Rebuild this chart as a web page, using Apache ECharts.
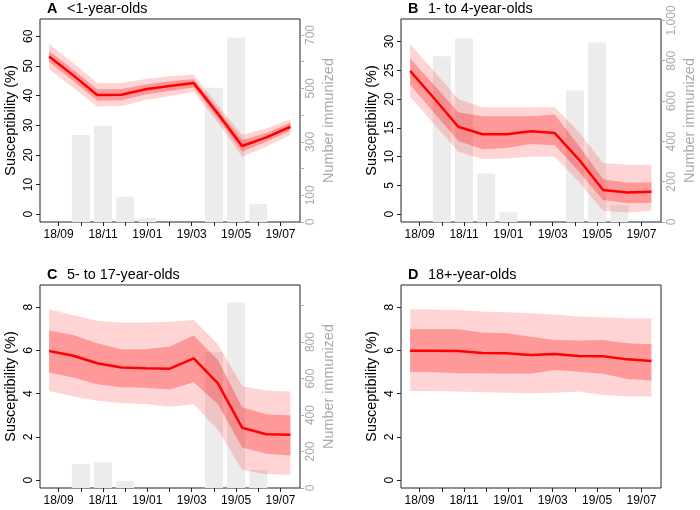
<!DOCTYPE html>
<html>
<head>
<meta charset="utf-8">
<script src="https://cdn.jsdelivr.net/npm/echarts@6/dist/echarts.min.js"></script>
<style>
  html, body { margin: 0; padding: 0; background: #fff; }
  #chart { width: 700px; height: 510px; }
</style>
</head>
<body>
<div id="chart"></div>
<script>
// month ticks, 18/09 = 0 ... 19/07 = 10
const months = ['18/09', '18/10', '18/11', '18/12', '19/01', '19/02', '19/03', '19/04', '19/05', '19/06', '19/07'];
const monthTicks = [0, 1, 2, 3, 4, 5, 6, 7, 8, 9, 10];
const labelTicks = [0, 2, 4, 6, 8, 10];

// positions of the model estimates on the month scale
const samplePos = [-0.43, 0.66, 1.74, 2.83, 3.92, 5.01, 6.09, 7.18, 8.27, 9.36, 10.45];
// months with an immunization bar
const barMonths = [1, 2, 3, 4, 5, 6, 7, 8, 9];

// A  <1-year-olds
const aMedian = [53.2, 46.8, 40.2, 40.3, 42.1, 43.2, 44.2, 33.9, 23.0, 25.9, 29.5];
const aLow50  = [51.3, 44.9, 38.3, 38.4, 40.4, 41.5, 42.7, 32.4, 21.1, 24.4, 28.2];
const aHigh50 = [55.0, 48.7, 42.1, 42.2, 43.7, 44.8, 45.6, 35.4, 25.0, 27.4, 30.8];
const aLow95  = [48.9, 42.6, 36.3, 36.5, 38.5, 39.8, 41.3, 30.9, 19.4, 22.8, 26.7];
const aHigh95 = [57.4, 51.0, 44.2, 44.2, 45.6, 46.5, 47.0, 36.8, 26.7, 28.9, 32.0];
const aImmunized = [326, 360, 95, 16, 0, 0, 503, 690, 67];

// B  1- to 4-year-olds
const bMedian = [24.9, 20.1, 15.2, 13.9, 13.9, 14.4, 14.1, 9.5, 4.2, 3.8, 3.9];
const bLow50  = [22.5, 17.6, 12.7, 11.3, 11.5, 12.2, 12.0, 7.4, 2.5, 1.9, 2.0];
const bHigh50 = [27.1, 22.4, 17.7, 17.0, 17.0, 17.0, 17.3, 11.9, 6.1, 5.5, 5.5];
const bLow95  = [20.4, 15.6, 10.9, 9.6, 9.7, 10.0, 10.0, 5.6, 0.6, 0.3, 0.6];
const bHigh95 = [29.5, 24.8, 20.0, 18.6, 18.6, 18.6, 18.6, 14.3, 8.9, 8.6, 8.6];
const bImmunized = [822, 912, 241, 48, 0, 0, 652, 891, 84];

// C  5- to 17-year-olds
const cMedian = [5.98, 5.76, 5.41, 5.21, 5.18, 5.16, 5.64, 4.48, 2.43, 2.13, 2.10];
const cLow50  = [4.98, 4.75, 4.44, 4.30, 4.28, 4.20, 4.53, 3.51, 1.51, 1.23, 1.14];
const cHigh50 = [6.93, 6.72, 6.33, 6.06, 6.06, 6.18, 6.69, 5.56, 3.37, 3.05, 2.99];
const cLow95  = [4.13, 3.87, 3.68, 3.56, 3.53, 3.40, 3.51, 2.33, 0.48, 0.28, 0.25];
const cHigh95 = [7.90, 7.64, 7.38, 7.29, 7.29, 7.33, 7.41, 6.29, 4.36, 4.14, 4.10];
const cImmunized = [132, 141, 38, 0, 0, 0, 745, 1017, 99];

// D  18+-year-olds
const dMedian = [5.99, 5.99, 5.98, 5.89, 5.87, 5.79, 5.84, 5.75, 5.73, 5.59, 5.52];
const dLow50  = [5.02, 4.99, 4.95, 4.95, 4.93, 4.92, 5.10, 5.02, 4.92, 4.68, 4.61];
const dHigh50 = [6.98, 6.98, 6.98, 6.83, 6.80, 6.64, 6.49, 6.46, 6.49, 6.33, 6.29];
const dLow95  = [4.13, 4.13, 4.10, 4.07, 4.05, 4.02, 4.05, 4.10, 3.94, 3.87, 3.87];
const dHigh95 = [7.90, 7.90, 7.87, 7.80, 7.77, 7.72, 7.67, 7.57, 7.54, 7.49, 7.49];

// axis ticks
const aLeftTicks = [0, 10, 20, 30, 40, 50, 60];
const bLeftTicks = [0, 5, 10, 15, 20, 25, 30];
const cdLeftTicks = [0, 2, 4, 6, 8];
const aRightTicks = [0, 100, 200, 300, 400, 500, 600, 700];
const aRightLabels = [0, 100, 300, 500, 700];
const bRightTicks = [0, 200, 400, 600, 800, 1000];
const cRightTicks = [0, 200, 400, 600, 800, 1000];
const cRightLabels = [0, 200, 400, 600, 800];

const FONT = '"Liberation Sans", Arial, Helvetica, sans-serif';
const BOX = '#222';
const GREY = '#a9a9a9';

const panels = [
  { letter: 'A', title: '<1-year-olds', left: 40, top: 19,
    median: aMedian, low50: aLow50, high50: aHigh50, low95: aLow95, high95: aHigh95,
    yMin: -2.6, yMax: 65.8, yTicks: aLeftTicks,
    bars: aImmunized, rMax: 760, rTicks: aRightTicks, rLabels: aRightLabels },
  { letter: 'B', title: '1- to 4-year-olds', left: 401, top: 19,
    median: bMedian, low50: bLow50, high50: bHigh50, low95: bLow95, high95: bHigh95,
    yMin: -1.34, yMax: 33.9, yTicks: bLeftTicks,
    bars: bImmunized, rMax: 1007, rTicks: bRightTicks, rLabels: bRightTicks },
  { letter: 'C', title: '5- to 17-year-olds', left: 40, top: 285,
    median: cMedian, low50: cLow50, high50: cHigh50, low95: cLow95, high95: cHigh95,
    yMin: -0.36, yMax: 9.03, yTicks: cdLeftTicks,
    bars: cImmunized, rMax: 1113, rTicks: cRightTicks, rLabels: cRightLabels },
  { letter: 'D', title: '18+-year-olds', left: 401, top: 285,
    median: dMedian, low50: dLow50, high50: dHigh50, low95: dLow95, high95: dHigh95,
    yMin: -0.36, yMax: 9.03, yTicks: cdLeftTicks,
    bars: null }
];

const grid = [], xAxis = [], yAxis = [], series = [], graphic = [];

function band(xi, yi, lo, hi, color, z) {
  return {
    type: 'custom', xAxisIndex: xi, yAxisIndex: yi, z: z, silent: true,
    data: samplePos.map((x, i) => [x, lo[i], hi[i]]),
    encode: { x: 0, y: [1, 2] },
    renderItem: (params, api) => {
      if (params.dataIndex !== 0) return;
      const upper = samplePos.map((x, i) => api.coord([x, hi[i]]));
      const lower = samplePos.map((x, i) => api.coord([x, lo[i]])).reverse();
      return { type: 'polygon', shape: { points: upper.concat(lower) }, style: { fill: color } };
    }
  };
}

panels.forEach((p, gi) => {
  grid.push({ left: p.left, top: p.top, width: 260, height: 203, show: true,
    borderColor: BOX, borderWidth: 1, backgroundColor: 'transparent' });

  xAxis.push({
    type: 'value', gridIndex: gi, min: -0.84, max: 10.88,
    axisLine: { show: false, onZero: false }, splitLine: { show: false },
    axisTick: { show: true, length: 4, customValues: monthTicks, lineStyle: { color: BOX } },
    axisLabel: { customValues: labelTicks, formatter: v => months[v], fontSize: 12,
      color: '#000', margin: 7, fontFamily: FONT }
  });

  const leftIdx = yAxis.length;
  yAxis.push({
    type: 'value', gridIndex: gi, position: 'left', min: p.yMin, max: p.yMax,
    axisLine: { show: false, onZero: false }, splitLine: { show: false },
    axisTick: { show: true, length: 4, customValues: p.yTicks, lineStyle: { color: BOX } },
    axisLabel: { customValues: p.yTicks, rotate: 90, fontSize: 12, color: '#000', margin: 5, fontFamily: FONT },
    name: 'Susceptibility (%)', nameLocation: 'middle', nameGap: 22,
    nameTextStyle: { fontSize: 14.4, color: '#000', fontFamily: FONT }
  });

  if (p.bars) {
    const rightIdx = yAxis.length;
    yAxis.push({
      type: 'value', gridIndex: gi, position: 'right', min: 0, max: p.rMax,
      axisLine: { show: false, onZero: false }, splitLine: { show: false },
      axisTick: { show: true, length: 4, customValues: p.rTicks, lineStyle: { color: GREY } },
      axisLabel: { customValues: p.rLabels, rotate: 90, fontSize: 12, color: GREY, margin: 5, fontFamily: FONT },
      name: 'Number immunized', nameLocation: 'middle', nameGap: 22,
      nameTextStyle: { fontSize: 14.4, color: GREY, fontFamily: FONT }
    });
    series.push({
      type: 'bar', xAxisIndex: gi, yAxisIndex: rightIdx, z: 1, silent: true,
      barWidth: '81%', itemStyle: { color: '#ececec' },
      data: barMonths.map((m, i) => [m, p.bars[i]])
    });
  }

  series.push(band(gi, leftIdx, p.low95, p.high95, 'rgba(255,0,0,0.17)', 2));
  series.push(band(gi, leftIdx, p.low50, p.high50, 'rgba(255,0,0,0.28)', 3));
  series.push({
    type: 'line', xAxisIndex: gi, yAxisIndex: leftIdx, z: 4, silent: true,
    showSymbol: false, symbol: 'none',
    lineStyle: { color: '#ff0000', width: 2.5 },
    data: samplePos.map((x, i) => [x, p.median[i]])
  });

  graphic.push({ type: 'text', x: p.left + 7, y: p.top - 9.5,
    style: { text: p.letter, font: 'bold 14.4px ' + FONT, fill: '#000', verticalAlign: 'middle' } });
  graphic.push({ type: 'text', x: p.left + 27, y: p.top - 9.5,
    style: { text: p.title, font: '14.4px ' + FONT, fill: '#000', verticalAlign: 'middle' } });
});

const chart = echarts.init(document.getElementById('chart'), null, { renderer: 'canvas' });
chart.setOption({
  animation: false,
  backgroundColor: '#fff',
  textStyle: { fontFamily: FONT },
  grid, xAxis, yAxis, series, graphic
});
</script>
</body>
</html>
